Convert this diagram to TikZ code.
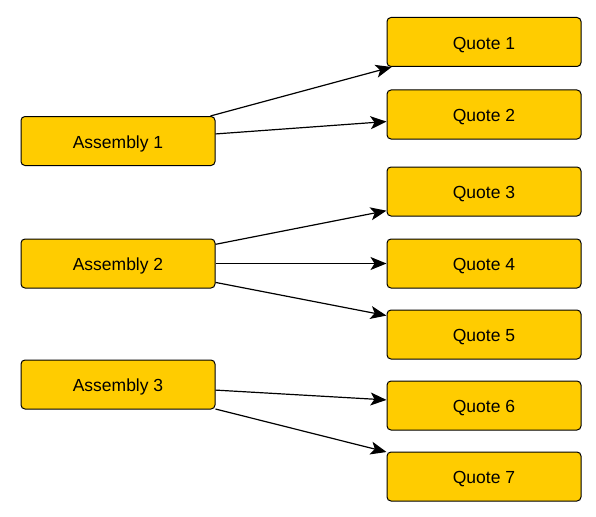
\documentclass[tikz,border=0pt]{standalone}
\usepackage{fontspec}
\setmainfont{Liberation Sans}
\usetikzlibrary{arrows.meta}

\definecolor{boxyellow}{HTML}{FFCC00}

\tikzset{
    box/.style={draw=black, line width=1pt, fill=boxyellow, rounded corners=4pt,
        minimum width=194pt, minimum height=49pt, inner sep=0pt,
        text height=14.2pt, text depth=0pt,
        font=\fontsize{17.5}{20}\selectfont},
    link/.style={line width=1.2pt, -{Stealth[length=16pt, width=13pt, inset=4pt]}}
}

\begin{document}
\begin{tikzpicture}[x=1pt, y=-1pt]
    % Frame
    \useasboundingbox (0,0) rectangle (596,516);

    % Assemblies
    \node[box] (asm1) at (118,141) {Assembly 1};
    \node[box] (asm2) at (118,263.5) {Assembly 2};
    \node[box] (asm3) at (118,384.5) {Assembly 3};

    % Quotes
    \node[box] (q1) at (484,42) {Quote 1};
    \node[box] (q2) at (484,114.5) {Quote 2};
    \node[box] (q3) at (484,191.5) {Quote 3};
    \node[box] (q4) at (484,263.5) {Quote 4};
    \node[box] (q5) at (484,334.5) {Quote 5};
    \node[box] (q6) at (484,405.5) {Quote 6};
    \node[box] (q7) at (484,476.5) {Quote 7};

    % Links
    \draw[link] (asm1) -- (q1);
    \draw[link] (asm1) -- (q2);
    \draw[link] (asm2) -- (q3);
    \draw[link] (asm2) -- (q4);
    \draw[link] (asm2) -- (q5);
    \draw[link] (asm3) -- (q6);
    \draw[link] (asm3) -- (q7);
\end{tikzpicture}
\end{document}
